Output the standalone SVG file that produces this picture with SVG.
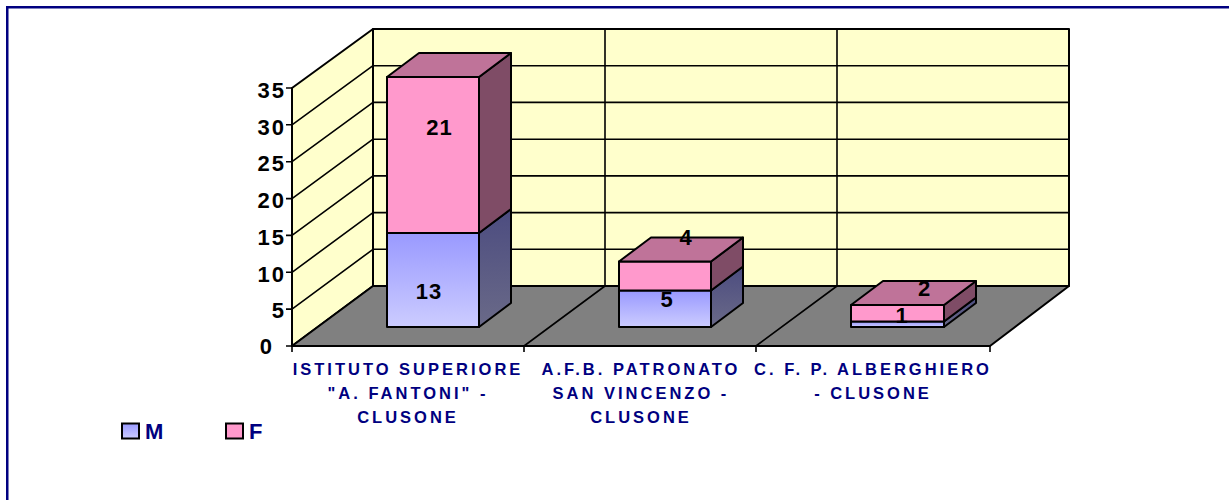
<svg xmlns="http://www.w3.org/2000/svg" width="1229" height="500" viewBox="0 0 1229 500">
<defs>
<linearGradient id="gBlue" x1="0" y1="0" x2="0" y2="1"><stop offset="0" stop-color="#9999FF"/><stop offset="1" stop-color="#CCCCFF"/></linearGradient>
<linearGradient id="gBlueSide" x1="0" y1="0" x2="0" y2="1"><stop offset="0" stop-color="#4C4C80"/><stop offset="1" stop-color="#6A6A88"/></linearGradient>
<style>
.wall{fill:#FFFFCC;stroke:#000;stroke-width:2;stroke-linejoin:round}
.floor{fill:#808080;stroke:#000;stroke-width:2;stroke-linejoin:round}
.grid{stroke:#000;stroke-width:1.6;fill:none}
.mf{fill:url(#gBlue);stroke:#000;stroke-width:2;stroke-linejoin:round}
.ms{fill:url(#gBlueSide);stroke:#000;stroke-width:2;stroke-linejoin:round}
.ff{fill:#FF99CC;stroke:#000;stroke-width:2;stroke-linejoin:round}
.fs{fill:#7F4C66;stroke:#000;stroke-width:2;stroke-linejoin:round}
.ft{fill:#BF7399;stroke:#000;stroke-width:2;stroke-linejoin:round}
.ax{font-family:"Liberation Sans",Arial,sans-serif;font-weight:bold;font-size:22px;fill:#000;letter-spacing:2px;text-anchor:end}
.dl{font-family:"Liberation Sans",Arial,sans-serif;font-weight:bold;font-size:22px;fill:#000;letter-spacing:1px;text-anchor:middle}
.cat{font-family:"Liberation Sans",Arial,sans-serif;font-weight:bold;font-size:16.5px;fill:#000080;letter-spacing:3px;text-anchor:middle}
.lg{font-family:"Liberation Sans",Arial,sans-serif;font-weight:bold;font-size:22px;fill:#000080}
</style>
</defs>
<rect width="1229" height="500" fill="#FFFFFF"/>
<rect x="7.25" y="7.25" width="1400" height="700" fill="none" stroke="#000080" stroke-width="2.5"/>

<g id="plot-area">
<polygon class="wall" points="292,346 292,88 373,29 373,286"/>
<polygon class="wall" points="373,29 1069,29 1069,286 373,286"/>
<polygon class="floor" points="292,346 990,346 1069,286 373,286"/>
<g class="grid">
<path d="M292,309.1 L373,249.3 M292,272.3 L373,212.6 M292,235.4 L373,175.9 M292,198.6 L373,139.2 M292,161.7 L373,102.4 M292,124.8 L373,65.7"/>
<path d="M373,249.3 H1069 M373,212.6 H1069 M373,175.9 H1069 M373,139.2 H1069 M373,102.4 H1069 M373,65.7 H1069"/>
<path d="M605,29 V286 M837,29 V286"/>
<path d="M524,346 L605,286 M756,346 L837,286"/>
<path d="M292,88 V346 H990"/>
<path d="M286,88 H292 M286,124.8 H292 M286,161.7 H292 M286,198.6 H292 M286,235.4 H292 M286,272.3 H292 M286,309.1 H292 M286,346 H292"/>
<path d="M292,346 V352 M524,346 V352 M756,346 V352 M990,346 V352"/>
</g>
</g>

<g id="y-axis-labels">
<text class="ax" x="286" y="98">35</text>
<text class="ax" x="286" y="135">30</text>
<text class="ax" x="286" y="171">25</text>
<text class="ax" x="286" y="208">20</text>
<text class="ax" x="286" y="245">15</text>
<text class="ax" x="286" y="282">10</text>
<text class="ax" x="286" y="318">5</text>
<text class="ax" x="274" y="354">0</text>
</g>

<g id="bar-1">
<rect class="mf" x="387" y="233" width="92" height="94"/>
<polygon class="ms" points="479,327 511,303 511,209 479,233"/>
<rect class="ff" x="387" y="77" width="92" height="156"/>
<polygon class="fs" points="479,233 511,209 511,53 479,77"/>
<polygon class="ft" points="387,77 479,77 511,53 419,53"/>
<text class="dl" x="439.5" y="135">21</text>
<text class="dl" x="429" y="298.5">13</text>
</g>

<g id="bar-2">
<rect class="mf" x="619" y="290.5" width="92" height="36.5"/>
<polygon class="ms" points="711,327 743,303 743,266.5 711,290.5"/>
<rect class="ff" x="619" y="261.5" width="92" height="29"/>
<polygon class="fs" points="711,290.5 743,266.5 743,237.5 711,261.5"/>
<polygon class="ft" points="619,261.5 711,261.5 743,237.5 651,237.5"/>
<text class="dl" x="667" y="307">5</text>
<text class="dl" x="686" y="244.5">4</text>
</g>

<g id="bar-3">
<rect class="mf" x="851" y="321.5" width="93" height="5.5"/>
<polygon class="ms" points="944,327 976,303 976,297.5 944,321.5"/>
<rect class="ff" x="851" y="305" width="93" height="16.5"/>
<polygon class="fs" points="944,321.5 976,297.5 976,281 944,305"/>
<polygon class="ft" points="851,305 944,305 976,281 883,281"/>
<text class="dl" x="924.5" y="295.5">2</text>
<text class="dl" x="902" y="322.5">1</text>
</g>

<g id="category-labels">
<text class="cat" x="408" y="375">ISTITUTO SUPERIORE</text>
<text class="cat" x="408" y="398.5">"A. FANTONI" -</text>
<text class="cat" x="408" y="422.5">CLUSONE</text>
<text class="cat" x="641" y="375">A.F.B. PATRONATO</text>
<text class="cat" x="641" y="398.5">SAN VINCENZO -</text>
<text class="cat" x="641" y="422.5">CLUSONE</text>
<text class="cat" x="873" y="375">C. F. P. ALBERGHIERO</text>
<text class="cat" x="873" y="398.5">- CLUSONE</text>
</g>

<g id="legend">
<rect x="122" y="423.5" width="17" height="15" fill="url(#gBlue)" stroke="#000" stroke-width="2"/>
<text class="lg" x="145" y="439">M</text>
<rect x="226" y="423.5" width="17" height="15" fill="#FF99CC" stroke="#000" stroke-width="2"/>
<text class="lg" x="249" y="439">F</text>
</g>
</svg>
